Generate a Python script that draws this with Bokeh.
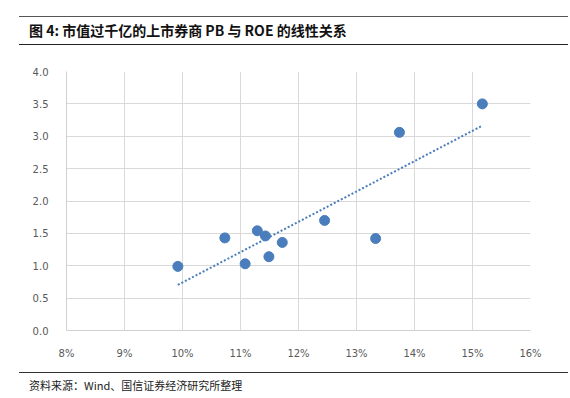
import numpy as np
from bokeh.plotting import figure
from bokeh.models import Range1d, FixedTicker, NumeralTickFormatter, Div
from bokeh.layouts import column
from bokeh.embed import file_html
from bokeh.resources import INLINE

# Data: ROE (fraction) and PB
roe = [0.0992, 0.1073, 0.1108, 0.1129, 0.1143, 0.1149, 0.1172, 0.1245, 0.1333, 0.1374, 0.1517]
pb = [0.99, 1.43, 1.03, 1.54, 1.46, 1.14, 1.36, 1.70, 1.42, 3.06, 3.50]
x_ticks = [0.08, 0.09, 0.10, 0.11, 0.12, 0.13, 0.14, 0.15, 0.16]
y_ticks = [0.0, 0.5, 1.0, 1.5, 2.0, 2.5, 3.0, 3.5, 4.0]

title_text = "图 4: 市值过千亿的上市券商 PB 与 ROE 的线性关系"
source_text = "资料来源：Wind、国信证券经济研究所整理"

# Linear trendline (least squares) over the data span
slope, intercept = np.polyfit(roe, pb, 1)
tx = [min(roe), max(roe)]
ty = [slope * v + intercept for v in tx]

title_div = Div(
    text=(f'<div style="margin:8px 0 0 11px; width:549px; height:29px; box-sizing:border-box;'
          f' border-top:1.5px solid #555555; border-bottom:1.5px solid #222222; padding-left:10px;'
          f' font-family:\'Noto Sans CJK SC\'; font-weight:bold; font-size:14px; line-height:26px;'
          f' color:#111111; white-space:nowrap;">{title_text}</div>'),
    width=554, height=44, margin=(0, 0, 0, 0),
)

p = figure(width=554, height=310, output_backend="svg", toolbar_location=None,
           x_range=Range1d(0.08, 0.16), y_range=Range1d(0.0, 4.0),
           min_border_left=58, min_border_right=32, min_border_top=19, min_border_bottom=32,
           margin=(0, 0, 0, 0))
p.outline_line_color = None
p.background_fill_color = "white"
p.border_fill_color = "white"

for ax in (p.xaxis, p.yaxis):
    ax.axis_line_color = "#d0d0d0"
    ax.axis_line_width = 1
    ax.major_tick_line_color = None
    ax.minor_tick_line_color = None
    ax.major_label_text_font = "DejaVu Sans"
    ax.major_label_text_font_size = "10px"
    ax.major_label_text_color = "#595959"

p.xaxis.ticker = FixedTicker(ticks=x_ticks)
p.xaxis.formatter = NumeralTickFormatter(format="0%")
p.xaxis.major_label_standoff = 11
p.yaxis.ticker = FixedTicker(ticks=y_ticks)
p.yaxis.formatter = NumeralTickFormatter(format="0.0")
p.yaxis.major_label_standoff = 12

p.xgrid.grid_line_color = "#d9d9d9"
p.ygrid.grid_line_color = "#d9d9d9"
p.xgrid.grid_line_width = 1
p.ygrid.grid_line_width = 1

p.line(tx, ty, line_color="#4a7dbb", line_width=2, line_dash="2 2")
p.scatter(roe, pb, size=10, fill_color="#4a7dbb", line_color="#4a7dbb")

footer_div = Div(
    text=(f'<div style="margin:10px 0 0 11px; width:549px; height:26px; box-sizing:border-box;'
          f' border-top:1.5px solid #333333; padding-left:10px;'
          f' font-family:\'Noto Sans CJK SC\'; font-size:11px; line-height:24px;'
          f' color:#222222; white-space:nowrap;">{source_text}</div>'),
    width=554, height=28, margin=(0, 0, 0, 0),
)

layout = column(title_div, p, footer_div, spacing=0, margin=(8, 8, 8, 8))
open("out.html", "w").write(file_html(layout, INLINE))
